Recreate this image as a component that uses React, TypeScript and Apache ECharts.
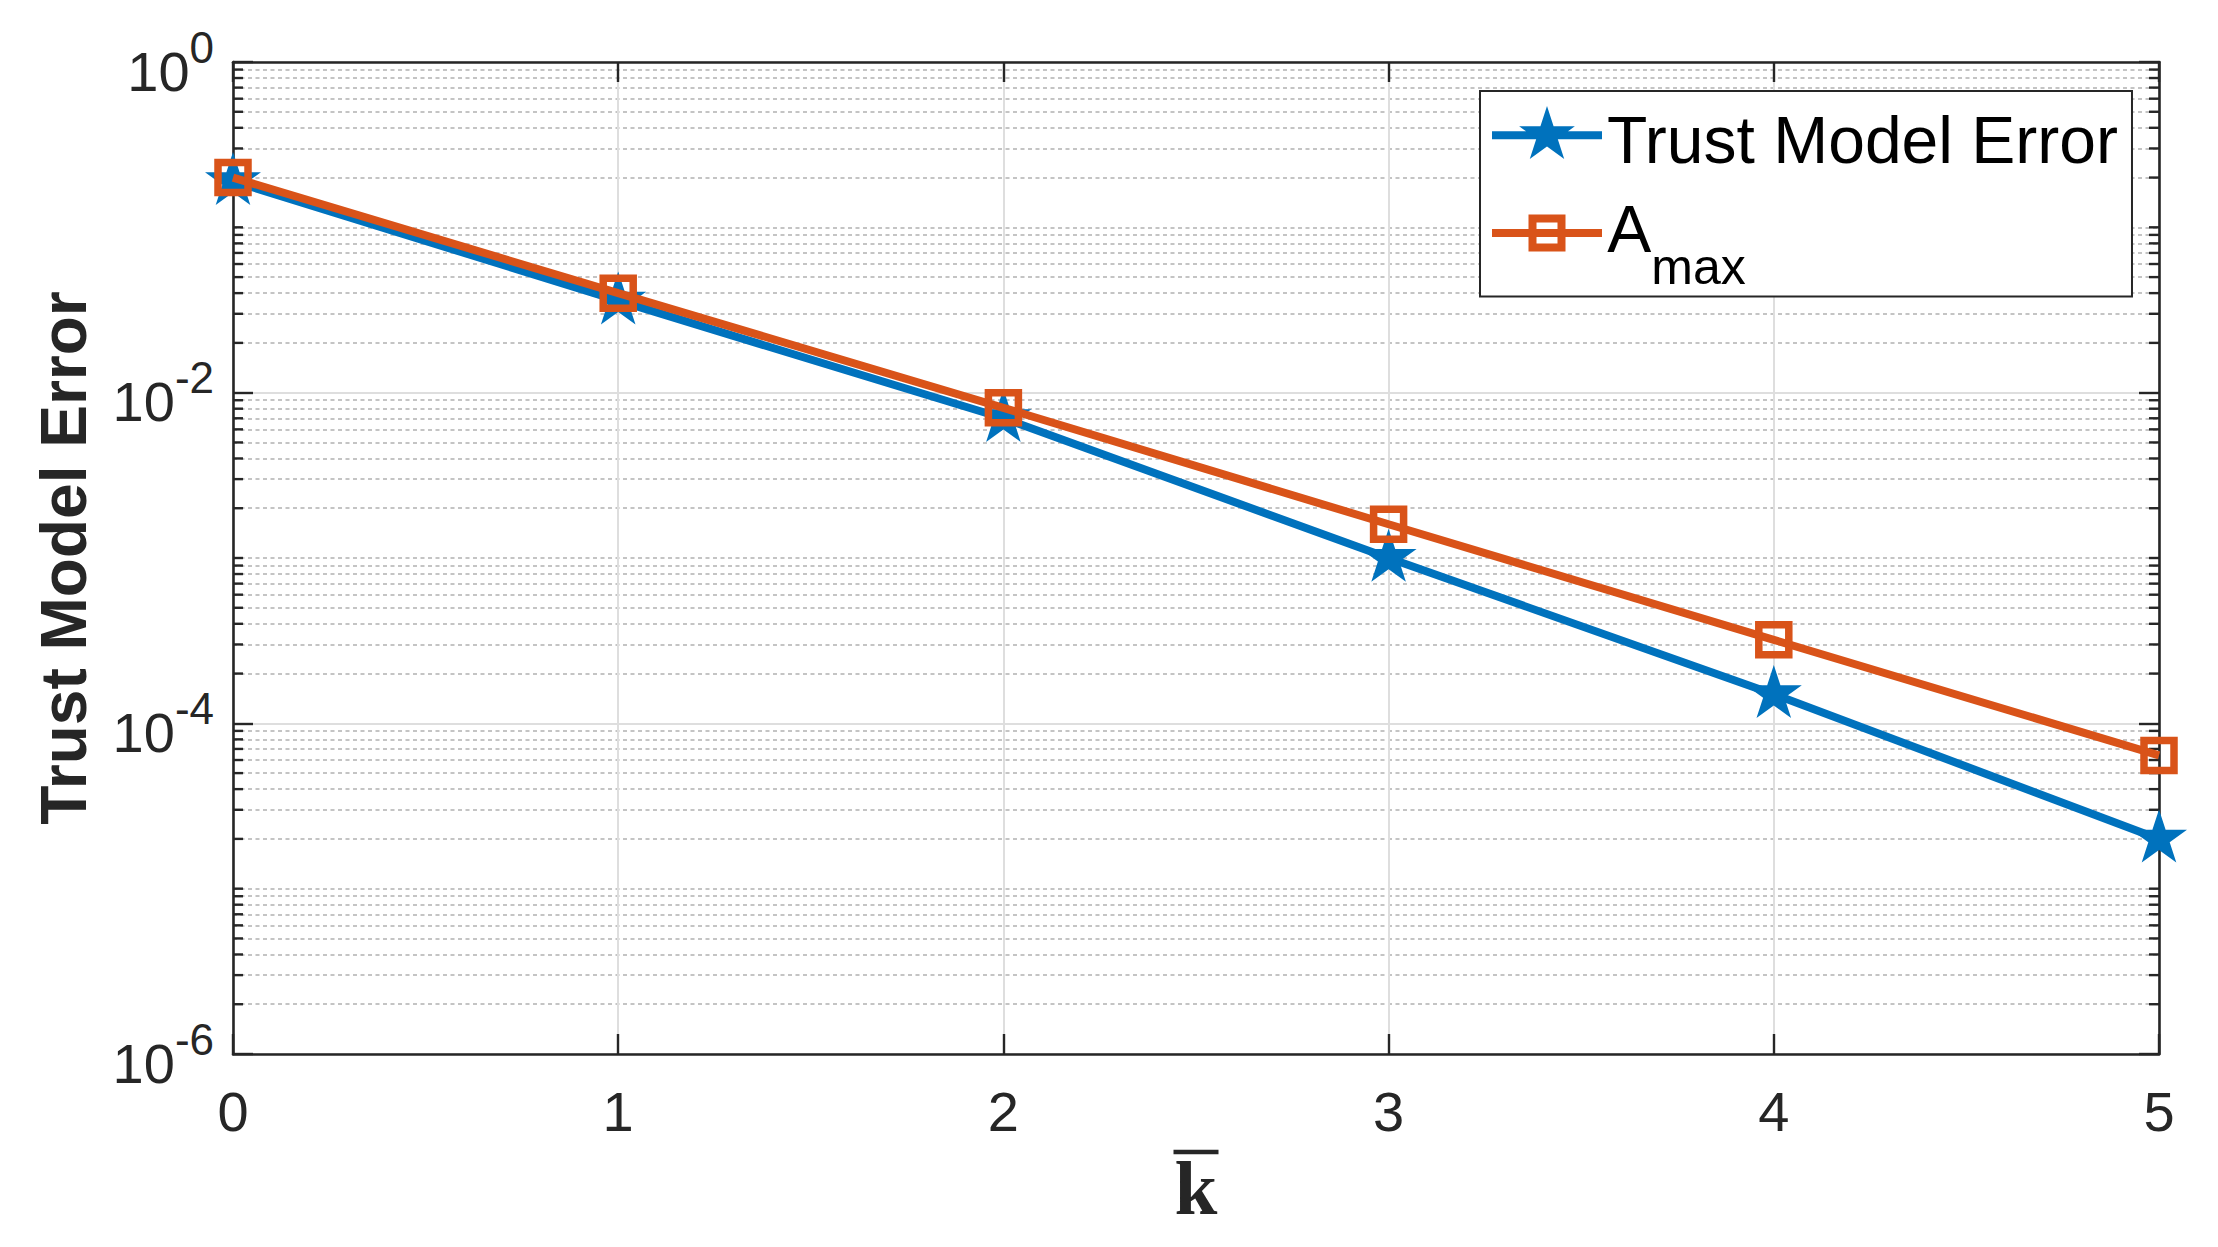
import React, { useEffect, useRef } from 'react';
import * as echarts from 'echarts';

// ---- data ----
const kValues = [0, 1, 2, 3, 4, 5];
const trustModelError = [0.19, 0.036, 0.007, 0.001, 1.5e-4, 2.0e-5];
const aMax = [0.2, 0.04, 0.0081, 0.0016, 3.2e-4, 6.4e-5];
const xTickValues = [0, 1, 2, 3, 4, 5];
const yMajorTicks = [1e-6, 1e-4, 1e-2, 1];
const yMinorMantissas = [1, 2, 3, 4, 5, 6, 7, 8, 9];
const yDecades = [-6, -5, -4, -3, -2, -1];
const seriesNames = ['Trust Model Error', 'Amax'];

const yMinorTicks = yDecades
  .flatMap((e) => yMinorMantissas.map((m) => m * Math.pow(10, e)))
  .filter((v) => !yMajorTicks.some((t) => Math.abs(Math.log10(v) - Math.log10(t)) < 1e-9));

const BLUE = '#0072BD';
const ORANGE = '#D95319';
const AXIS = '#262626';
const SANS = '"Liberation Sans", Arial, Helvetica, sans-serif';
const SERIF = '"Liberation Serif", "DejaVu Serif", serif';

const STAR_PATH =
  'M55,0L61.58,20.24L82.87,20.25L65.65,32.76L72.22,53L55,40.5L37.78,53L44.35,32.76L27.13,20.25L48.42,20.24Z';
const STAR = 'path://' + STAR_PATH;
// legend icons: line + marker; the trailing zero-length segment only extends the icon box downwards
const STAR_LEGEND = 'path://M0,25.3H110V33.3H0Z' + STAR_PATH + 'M55,68.6L55,68.6';
const SQUARE_LEGEND = 'path://M0,14.5H110V22.5H0ZM36.5,0H73.5V37H36.5ZM44.5,8V29H65.5V8ZM55,59L55,59';

export default function App() {
  const ref = useRef<HTMLDivElement>(null);

  useEffect(() => {
    if (!ref.current) return;
    const chart = echarts.init(ref.current, undefined, { renderer: 'svg' });

    const yLabelFormatter = (value: number) => {
      const e = Math.round(Math.log10(value));
      return `{h| }{b|10}{s|${e}}`;
    };

    const yBase = {
      type: 'log',
      logBase: 10,
      min: 1e-6,
      max: 1,
      gridIndex: 0,
      offset: 0,
    };

    const legendCommon = {
      orient: 'vertical',
      itemWidth: 110,
      itemGap: 0,
      borderRadius: 0,
      selectedMode: false,
    };

    const option: any = {
      animation: false,
      backgroundColor: '#ffffff',
      grid: {
        left: 233,
        right: 59,
        top: 62,
        bottom: 193,
        containLabel: false,
        outerBoundsMode: 'none',
      },
      legend: [
        {
          ...legendCommon,
          left: 1480,
          top: 91,
          itemHeight: 70,
          padding: [15, 14, 122, 12],
          backgroundColor: '#ffffff',
          borderColor: AXIS,
          borderWidth: 2,
          z: 4,
          textStyle: {
            fontFamily: SANS,
            fontSize: 66,
            color: '#000000',
          },
          data: [{ name: seriesNames[0], icon: STAR_LEGEND, itemStyle: { color: BLUE, borderWidth: 0 } }],
        },
        {
          ...legendCommon,
          left: 1492,
          top: 196,
          itemHeight: 60,
          padding: 0,
          backgroundColor: 'rgba(0,0,0,0)',
          borderWidth: 0,
          z: 5,
          textStyle: {
            fontFamily: SANS,
            fontSize: 66,
            color: '#000000',
            rich: {
              h: { fontSize: 1, lineHeight: 96, fontFamily: SANS },
              a: { fontSize: 66, verticalAlign: 'top', fontFamily: SANS, color: '#000000' },
              m: { fontSize: 50, verticalAlign: 'bottom', fontFamily: SANS, color: '#000000' },
            },
          },
          formatter: () => '{h| }{a|A}{m|max}',
          data: [{ name: seriesNames[1], icon: SQUARE_LEGEND, itemStyle: { color: ORANGE, borderWidth: 0 } }],
        },
      ],
      xAxis: [
        {
          type: 'value',
          position: 'bottom',
          offset: 0,
          min: 0,
          max: 5,
          interval: 1,
          name: '{bar| }\n{k|k}',
          nameLocation: 'middle',
          nameGap: 93,
          nameMoveOverlap: false,
          nameTextStyle: {
            fontFamily: SERIF,
            fontWeight: 'bold',
            fontSize: 77,
            color: AXIS,
            rich: {
              bar: { fontSize: 1, width: 45, height: 4.5, lineHeight: 10, backgroundColor: AXIS },
              k: { fontFamily: SERIF, fontWeight: 'bold', fontSize: 77, lineHeight: 62, color: AXIS },
            },
          },
          axisLine: { show: true, onZero: false, lineStyle: { color: AXIS, width: 2.6 } },
          axisTick: { show: true, inside: true, length: 20, lineStyle: { color: AXIS, width: 2.4 } },
          axisLabel: {
            show: true,
            margin: 29,
            fontFamily: SANS,
            fontSize: 56,
            color: AXIS,
            customValues: xTickValues,
            formatter: (v: number) => String(v),
          },
          splitLine: { show: true, lineStyle: { color: '#dedede', width: 2, type: 'solid' } },
        },
        {
          type: 'value',
          position: 'top',
          offset: 0,
          min: 0,
          max: 5,
          interval: 1,
          axisLine: { show: true, onZero: false, lineStyle: { color: AXIS, width: 2.6 } },
          axisTick: { show: true, inside: true, length: 20, lineStyle: { color: AXIS, width: 2.4 } },
          axisLabel: { show: false },
          splitLine: { show: false },
        },
      ],
      yAxis: [
        {
          ...yBase,
          position: 'left',
          name: 'Trust Model Error',
          nameLocation: 'middle',
          nameRotate: 90,
          nameGap: 137,
          nameMoveOverlap: false,
          nameTextStyle: { fontFamily: SANS, fontWeight: 'bold', fontSize: 64, color: AXIS },
          axisLine: { show: true, onZero: false, lineStyle: { color: AXIS, width: 2.6 } },
          axisTick: {
            show: true,
            inside: true,
            length: 20,
            customValues: yMajorTicks,
            lineStyle: { color: AXIS, width: 2.4 },
          },
          axisLabel: {
            show: true,
            margin: 19,
            customValues: yMajorTicks,
            formatter: yLabelFormatter,
            color: AXIS,
            fontFamily: SANS,
            rich: {
              h: { fontSize: 1, lineHeight: 74, fontFamily: SANS },
              b: { fontSize: 56, verticalAlign: 'bottom', fontFamily: SANS, color: AXIS },
              s: { fontSize: 44, verticalAlign: 'top', fontFamily: SANS, color: AXIS },
            },
          },
          splitLine: { show: true, lineStyle: { color: '#dedede', width: 2, type: 'solid' } },
          minorTick: { show: false },
          minorSplitLine: { show: false },
        },
        {
          ...yBase,
          position: 'left',
          axisLine: { show: false, onZero: false },
          axisTick: { show: false, customValues: yMinorTicks },
          axisLabel: { show: false, customValues: yMinorTicks },
          splitLine: { show: true, lineStyle: { color: '#c4c4c4', width: 2, type: [4, 3.5] } },
        },
        {
          ...yBase,
          position: 'right',
          axisLine: { show: true, onZero: false, lineStyle: { color: AXIS, width: 2.6 } },
          axisTick: {
            show: true,
            inside: true,
            length: 20,
            customValues: yMajorTicks,
            lineStyle: { color: AXIS, width: 2.4 },
          },
          axisLabel: { show: false, customValues: yMajorTicks },
          splitLine: { show: false },
        },
      ],
      series: [
        {
          name: 'minorTicks',
          type: 'custom',
          xAxisIndex: 0,
          yAxisIndex: 0,
          silent: true,
          clip: false,
          z: 1,
          data: yMinorTicks.map((v) => [0, v]),
          renderItem: (params: any, api: any) => {
            const y = api.coord([0, api.value(1)])[1];
            const cs = params.coordSys;
            const style = { stroke: AXIS, lineWidth: 2.4 };
            return {
              type: 'group',
              children: [
                { type: 'line', shape: { x1: cs.x, y1: y, x2: cs.x + 10, y2: y }, style },
                { type: 'line', shape: { x1: cs.x + cs.width - 10, y1: y, x2: cs.x + cs.width, y2: y }, style },
              ],
            };
          },
        },
        {
          name: seriesNames[0],
          type: 'line',
          xAxisIndex: 0,
          yAxisIndex: 0,
          clip: false,
          data: kValues.map((k, i) => [k, trustModelError[i]]),
          symbol: STAR,
          symbolSize: [56, 53],
          symbolKeepAspect: false,
          symbolOffset: [0, -2.8],
          showAllSymbol: true,
          lineStyle: { color: BLUE, width: 8 },
          itemStyle: { color: BLUE, borderWidth: 0 },
          emphasis: { disabled: true },
          z: 3,
        },
        {
          name: seriesNames[1],
          type: 'line',
          xAxisIndex: 0,
          yAxisIndex: 0,
          clip: false,
          data: kValues.map((k, i) => [k, aMax[i]]),
          symbol: 'rect',
          symbolSize: 30,
          showAllSymbol: true,
          lineStyle: { color: ORANGE, width: 8 },
          itemStyle: { color: 'rgba(0,0,0,0)', borderColor: ORANGE, borderWidth: 7.5 },
          emphasis: { disabled: true },
          z: 4,
        },
      ],
    };

    chart.setOption(option);
    return () => {
      chart.dispose();
    };
  }, []);

  return (
    <div
      ref={ref}
      style={{ position: 'fixed', left: 0, top: 0, width: 2218, height: 1247, background: '#ffffff' }}
    />
  );
}
